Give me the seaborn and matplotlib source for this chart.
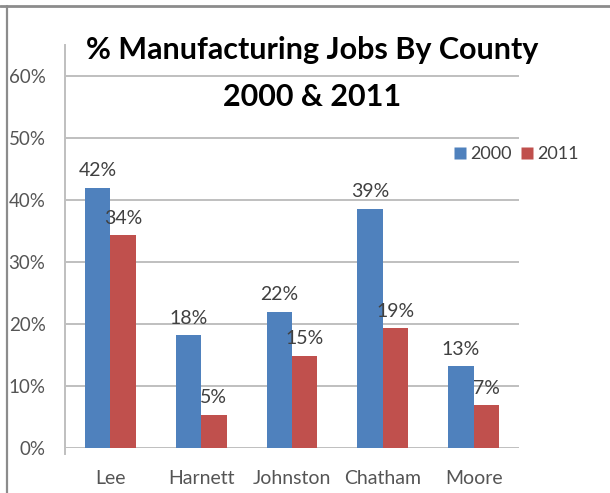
import matplotlib
matplotlib.use("Agg")
import matplotlib.pyplot as plt
from matplotlib.lines import Line2D
from matplotlib.ticker import FixedLocator, PercentFormatter
import seaborn as sns
import pandas as pd

# Share of jobs in manufacturing, by county
counties = ["Lee", "Harnett", "Johnston", "Chatham", "Moore"]
share_2000 = [0.42, 0.182, 0.22, 0.386, 0.132]
share_2011 = [0.343, 0.054, 0.149, 0.193, 0.069]
years = ["2000", "2011"]
y_ticks = [0.0, 0.1, 0.2, 0.3, 0.4, 0.5, 0.6]

blue = "#4F81BD"
red = "#C0504D"
grid_gray = "#BFBFBF"
text_gray = "#555555"

df = pd.DataFrame({
    "County": counties * 2,
    "Year": [years[0]] * len(counties) + [years[1]] * len(counties),
    "Share": share_2000 + share_2011,
})

sns.set_theme(style="white")
plt.rcParams["font.family"] = ["Lato", "DejaVu Sans"]

W, H = 610, 493
fig = plt.figure(figsize=(W / 100, H / 100), dpi=100)
ax = fig.add_axes([65 / W, 1 - 448 / H, (519 - 65) / W, (448 - 45) / H])

sns.barplot(data=df, x="County", y="Share", hue="Year", order=counties,
            hue_order=years, palette=[blue, red], width=0.56, gap=0,
            saturation=1, edgecolor="none", ax=ax, legend=False)

ax.set_ylim(0, 0.65)
ax.set_xlim(-0.5, len(counties) - 0.5)
ax.set_xlabel("")
ax.set_ylabel("")

# Horizontal gridlines and axis styling
ax.yaxis.set_major_locator(FixedLocator(y_ticks))
ax.yaxis.set_major_formatter(PercentFormatter(1.0, decimals=0))
for t in y_ticks:
    ax.axhline(t, color=grid_gray, lw=1.4, zorder=0)
for s in ["top", "right", "bottom"]:
    ax.spines[s].set_visible(False)
ax.spines["left"].set_color(grid_gray)
ax.spines["left"].set_linewidth(1.4)
ax.spines["left"].set_bounds(-0.01, 0.65)

ax.tick_params(axis="y", length=5, width=1.4, color=grid_gray, pad=9,
               labelsize=13.5, labelcolor=text_gray)

# Category labels sit between boundary ticks
bounds = [i - 0.5 for i in range(len(counties) + 1)]
ax.xaxis.set_major_locator(FixedLocator(bounds))
ax.xaxis.set_major_formatter(plt.NullFormatter())
ax.xaxis.set_minor_locator(FixedLocator(list(range(len(counties)))))
ax.set_xticklabels(counties, minor=True)
ax.tick_params(axis="x", which="major", length=6, width=1.4,
               color=grid_gray, direction="out")
ax.tick_params(axis="x", which="minor", length=0, pad=16,
               labelsize=14, labelcolor=text_gray)

for cont in ax.containers:
    ax.bar_label(cont, labels=[f"{v:.0%}" for v in cont.datavalues],
                 padding=6, fontsize=14, color="#404040")

handles = [Line2D([], [], marker="s", ls="none", markersize=9,
                  markerfacecolor=c, markeredgecolor="none")
           for c in (blue, red)]
fig.legend(handles, years, loc="center left",
           bbox_to_anchor=(444 / W, 1 - 154 / H), ncol=2, frameon=False,
           fontsize=13, labelcolor="#404040", handlelength=0.75,
           handletextpad=0.2, columnspacing=0.45, borderpad=0)

fig.text(312 / W, 1 - 50 / H, "% Manufacturing Jobs By County",
         ha="center", va="center", fontsize=22, fontweight="bold",
         color="black")
fig.text(312 / W, 1 - 97 / H, "2000 & 2011",
         ha="center", va="center", fontsize=22, fontweight="bold",
         color="black")

# Frame lines along the top and left edges
fig.add_artist(Line2D([0, 1], [1 - 5.5 / H] * 2, transform=fig.transFigure,
                      color="#8C8C8C", lw=2))
fig.add_artist(Line2D([6.5 / W] * 2, [0, 1 - 5.5 / H], transform=fig.transFigure,
                      color="#8C8C8C", lw=1.6))

fig.savefig("out.png", dpi=100)
